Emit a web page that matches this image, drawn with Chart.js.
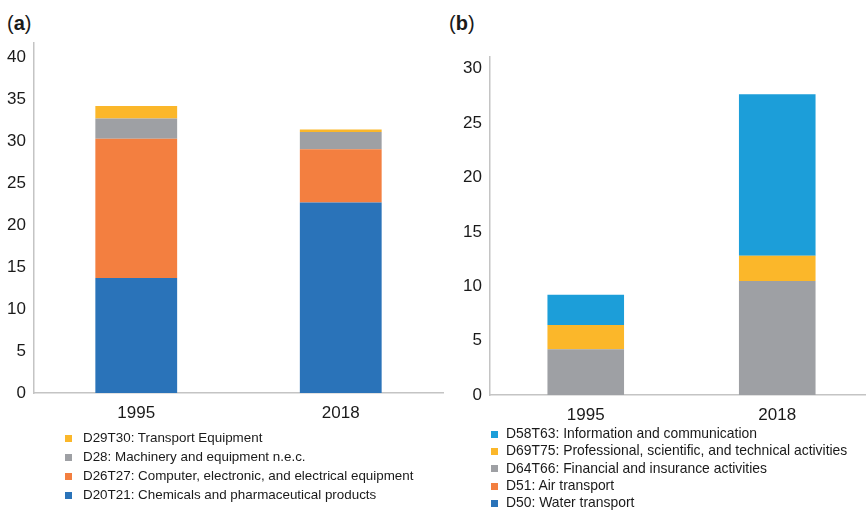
<!DOCTYPE html>
<html lang="en">
<head>
  <meta charset="UTF-8" />
  <title>Value added by industry, 1995 vs 2018</title>
  <style>
    body {
      margin: 0;
      width: 866px;
      height: 510px;
      overflow: hidden;
      background: #fff;
      font-family: Arial, 'Liberation Sans', sans-serif;
      color: #1a1a1a;
      position: relative;
    }
    .panel-tag {
      position: absolute;
      top: 12px;
      font-size: 20px;
    }
    .panel-tag b { font-weight: bold; }
    canvas { position: absolute; top: 0; }
    #chartA { left: 0; }
    #chartB { left: 433px; }
    .legend {
      position: absolute;
      margin: 0;
      padding: 0;
      list-style: none;
      white-space: nowrap;
    }
    .legend li {
      position: relative;
    }
    .legend li span {
      position: absolute;
      left: 0;
      top: 50%;
      width: 7px;
      height: 7px;
      margin-top: -3px;
    }
    #legendA { left: 65px; top: 428px; font-size: 13.4px; }
    #legendA li { height: 19px; line-height: 19px; padding-left: 18px; }
    #legendB { left: 491px; top: 425px; font-size: 13.9px; }
    #legendB li { height: 17.3px; line-height: 17.3px; padding-left: 15px; }
  </style>
</head>
<body>

  <div class="panel-tag" style="left:7px">(<b>a</b>)</div>
  <div class="panel-tag" style="left:449px">(<b>b</b>)</div>

  <canvas id="chartA" width="445" height="430"></canvas>
  <canvas id="chartB" width="440" height="432"></canvas>

  <ul id="legendA" class="legend"></ul>
  <ul id="legendB" class="legend"></ul>

  <script src="https://cdn.jsdelivr.net/npm/chart.js"></script>
  <script>
    const years = ['1995', '2018'];

    // panel (a) - manufacturing, stacked bottom to top
    const aLabels = [
      'D20T21: Chemicals and pharmaceutical products',
      'D26T27: Computer, electronic, and electrical equipment',
      'D28: Machinery and equipment n.e.c.',
      'D29T30: Transport Equipment'
    ];
    const aChemicals = [13.7, 22.7];
    const aComputer = [16.6, 6.35];
    const aMachinery = [2.4, 2.05];
    const aTransport = [1.5, 0.3];
    const aTicks = [0, 5, 10, 15, 20, 25, 30, 35, 40];

    // panel (b) - services, stacked bottom to top
    const bLabels = [
      'D50: Water transport',
      'D51: Air transport',
      'D64T66: Financial and insurance activities',
      'D69T75: Professional, scientific, and technical activities',
      'D58T63: Information and communication'
    ];
    const bWater = [0, 0];
    const bAir = [0, 0];
    const bFinance = [4.2, 10.47];
    const bProfessional = [2.23, 2.32];
    const bInfo = [2.78, 14.85];
    const bTicks = [0, 5, 10, 15, 20, 25, 30];

    const blue = '#2a73b9';
    const orange = '#f37f40';
    const gray = '#9ea0a4';
    const yellow = '#fbb72a';
    const lightBlue = '#1c9ed9';

    const aColors = [blue, orange, gray, yellow];
    const bColors = [blue, orange, gray, yellow, lightBlue];

    function makeChart(id, labels, series, colors, tickList, yMax, axisW, top, right) {
      const datasets = series.map((data, i) => ({
        label: labels[i],
        data: data,
        backgroundColor: colors[i],
        borderWidth: 0,
        barPercentage: 0.4,
        categoryPercentage: 1
      }));
      return new Chart(document.getElementById(id), {
        type: 'bar',
        data: { labels: years, datasets: datasets },
        options: {
          responsive: false,
          animation: false,
          layout: { padding: { top: top, right: right, left: 0, bottom: 0 } },
          plugins: { legend: { display: false }, tooltip: { enabled: false } },
          scales: {
            x: {
              stacked: true,
              grid: { display: false, drawTicks: false },
              border: { color: '#c4c4c4', width: 1.5 },
              ticks: { color: '#1a1a1a', font: { family: 'Arial', size: 17 }, padding: 10 },
              afterFit: s => { s.height = 37; }
            },
            y: {
              stacked: true,
              min: 0,
              max: yMax,
              grid: { display: false, drawTicks: false },
              border: { color: '#c4c4c4', width: 1.5 },
              ticks: { color: '#1a1a1a', font: { family: 'Arial', size: 17 }, padding: 8 },
              afterBuildTicks: s => { s.ticks = tickList.map(v => ({ value: v })); },
              afterFit: s => { s.width = axisW; }
            }
          }
        }
      });
    }

    makeChart('chartA', aLabels,
      [aChemicals, aComputer, aMachinery, aTransport],
      aColors, aTicks, 41.7, 34, 43, 2);

    makeChart('chartB', bLabels,
      [bWater, bAir, bFinance, bProfessional, bInfo],
      bColors, bTicks, 31.07, 57, 57, 0);

    function buildLegend(id, labels, colors) {
      const ul = document.getElementById(id);
      for (let i = labels.length - 1; i >= 0; i--) {
        const li = document.createElement('li');
        li.innerHTML = '<span style="background:' + colors[i] + '"></span>' + labels[i];
        ul.appendChild(li);
      }
    }
    buildLegend('legendA', aLabels, aColors);
    buildLegend('legendB', bLabels, bColors);
  </script>
</body>
</html>
